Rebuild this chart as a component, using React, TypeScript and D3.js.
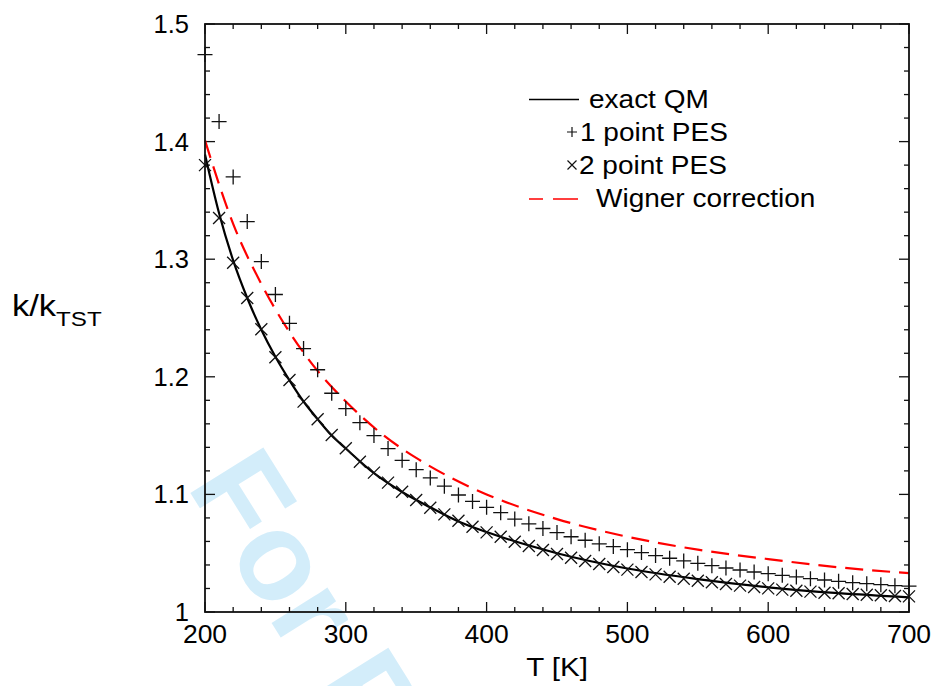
import React from "react";
import * as d3 from "d3";

// temperatures (K) of the marker series
const temps = d3.range(200, 701, 10);

const onePointPES = [
  1.474, 1.417, 1.37, 1.332, 1.298, 1.27, 1.2455, 1.224, 1.206, 1.186, 1.173,
  1.161, 1.15, 1.139, 1.129, 1.121, 1.114, 1.107, 1.0995, 1.094, 1.089,
  1.0845, 1.079, 1.075, 1.071, 1.0675, 1.064, 1.061, 1.058, 1.0556, 1.053,
  1.0505, 1.048, 1.0457, 1.0434, 1.0414, 1.0394, 1.0374, 1.0357, 1.034, 1.0326,
  1.0312, 1.0298, 1.0283, 1.0272, 1.0261, 1.0249, 1.0241, 1.0232, 1.0224, 1.022,
];

const twoPointPES = [
  1.38, 1.335, 1.297, 1.267, 1.2404, 1.2166, 1.1973, 1.1789, 1.1639, 1.1505,
  1.1392, 1.1278, 1.1185, 1.11, 1.1023, 1.0952, 1.0887, 1.083, 1.0776, 1.0725,
  1.0677, 1.064, 1.0598, 1.0561, 1.0527, 1.0493, 1.0462, 1.0434, 1.0408,
  1.0383, 1.036, 1.034, 1.032, 1.03, 1.0283, 1.0266, 1.0253, 1.0238, 1.0224,
  1.0213, 1.0201, 1.019, 1.0181, 1.0173, 1.0164, 1.0159, 1.0153, 1.0147,
  1.0142, 1.0136, 1.0133,
];

const qmTemps = [200, 210, 220, 230, 240, 250, 260, 270, 280, 290, 300, 320, 340, 360, 380, 400, 450, 500, 550, 600, 650, 700];
const exactQM = [1.389, 1.339, 1.299, 1.267, 1.24, 1.217, 1.197, 1.179, 1.164, 1.15, 1.139, 1.118, 1.102, 1.089, 1.077, 1.068, 1.05, 1.037, 1.028, 1.021, 1.016, 1.0125];

const wignerTemps = [200, 220, 240, 260, 280, 300, 325, 350, 375, 400, 450, 500, 550, 600, 650, 700];
const wigner = [1.401, 1.33, 1.279, 1.238, 1.205, 1.179, 1.152, 1.131, 1.114, 1.1, 1.079, 1.064, 1.053, 1.045, 1.038, 1.033];

const xMajorTicks = [200, 300, 400, 500, 600, 700];
const yMajorTicks = [1, 1.1, 1.2, 1.3, 1.4, 1.5];
const yTickLabels = ["1", "1.1", "1.2", "1.3", "1.4", "1.5"];

const W = 933;
const H = 686;
const M = { top: 24, right: 24, bottom: 74, left: 205 };
const FONT = "'Liberation Sans', Arial, Helvetica, sans-serif";

const Plus = ({ cx, cy, r }: { cx: number; cy: number; r: number }) => (
  <path d={`M${cx - r},${cy}H${cx + r}M${cx},${cy - r}V${cy + r}`} />
);
const Cross = ({ cx, cy, r }: { cx: number; cy: number; r: number }) => (
  <path d={`M${cx - r},${cy - r}L${cx + r},${cy + r}M${cx - r},${cy + r}L${cx + r},${cy - r}`} />
);

export default function App() {
  const x = d3.scaleLinear().domain([200, 700]).range([M.left, W - M.right]);
  const y = d3.scaleLinear().domain([1, 1.5]).range([H - M.bottom, M.top]);
  const x0 = x.range()[0], x1 = x.range()[1];
  const y0 = y.range()[0], y1 = y.range()[1];

  const xMinor = d3.range(200, 701, 20);
  const yMinor = d3.range(0, 26).map((i) => 1 + i * 0.02);

  const line = d3
    .line<[number, number]>()
    .x((d) => x(d[0]))
    .y((d) => y(d[1]))
    .curve(d3.curveMonotoneX);

  const qmPath = line(qmTemps.map((t, i) => [t, exactQM[i]]));
  const wignerPath = line(wignerTemps.map((t, i) => [t, wigner[i]]));

  const sx = 1.12;

  return (
    <svg
      width={W}
      height={H}
      style={{ position: "absolute", left: 0, top: 0, background: "#fff" }}
      fontFamily={FONT}
    >
      {/* watermark */}
      <text
        transform="translate(186,486) rotate(58)"
        fontSize={125}
        fontWeight="bold"
        fill="#d3edfa"
      >
        For Peer Review
      </text>

      {/* ticks, mirrored on all sides */}
      <g stroke="#111" strokeWidth={1.3}>
        {xMinor.map((t) => {
          const len = t % 100 === 0 ? 10 : 5;
          return (
            <g key={"xt" + t}>
              <line x1={x(t)} x2={x(t)} y1={y0} y2={y0 - len} />
              <line x1={x(t)} x2={x(t)} y1={y1} y2={y1 + len} />
            </g>
          );
        })}
        {yMinor.map((v, i) => {
          const len = i % 5 === 0 ? 10 : 5;
          return (
            <g key={"yt" + i}>
              <line x1={x0} x2={x0 + len} y1={y(v)} y2={y(v)} />
              <line x1={x1} x2={x1 - len} y1={y(v)} y2={y(v)} />
            </g>
          );
        })}
      </g>

      {/* curves */}
      <path d={wignerPath ?? ""} fill="none" stroke="#f00" strokeWidth={2.2} strokeDasharray="18,9" />
      <path d={qmPath ?? ""} fill="none" stroke="#000" strokeWidth={2.2} />

      <g stroke="#111" strokeWidth={1.3} fill="none">
        {temps.map((t, i) => (
          <Plus key={"p" + t} cx={x(t)} cy={y(onePointPES[i])} r={7.5} />
        ))}
        {temps.map((t, i) => (
          <Cross key={"c" + t} cx={x(t)} cy={y(twoPointPES[i])} r={6} />
        ))}
      </g>

      {/* frame */}
      <rect x={x0} y={y1} width={x1 - x0} height={y0 - y1} fill="none" stroke="#111" strokeWidth={1.8} />

      {/* tick labels */}
      <g fontSize={25} fill="#000">
        {xMajorTicks.map((t) => (
          <text key={"xl" + t} transform={`translate(${x(t)},643) scale(1.06,1)`} textAnchor="middle">
            {t}
          </text>
        ))}
        {yMajorTicks.map((v, i) => (
          <text key={"yl" + v} transform={`translate(189,${y(v) + 9}) scale(1.02,1)`} textAnchor="end">
            {yTickLabels[i]}
          </text>
        ))}
      </g>

      {/* axis labels */}
      <text transform={`translate(${(x0 + x1) / 2},676) scale(1.18,1)`} textAnchor="middle" fontSize={25}>
        T [K]
      </text>
      <text transform="translate(12,316) scale(1.15,1)" fontSize={30}>
        k/k
        <tspan fontSize={21} dy={10}>TST</tspan>
      </text>

      {/* legend */}
      <g fontSize={25}>
        <line x1={529} x2={579} y1={99.5} y2={99.5} stroke="#000" strokeWidth={1.5} />
        <text transform={`translate(589,107.5) scale(${sx},1)`}>exact QM</text>

        <g stroke="#111" strokeWidth={1.2}>
          <Plus cx={572} cy={132} r={5} />
        </g>
        <text transform={`translate(580,140.5) scale(${sx},1)`}>1 point PES</text>

        <g stroke="#111" strokeWidth={1.2}>
          <Cross cx={572} cy={165} r={4.5} />
        </g>
        <text transform={`translate(579,173.5) scale(${sx},1)`}>2 point PES</text>

        <line x1={529} x2={578} y1={199} y2={199} stroke="#f00" strokeWidth={1.5} strokeDasharray="14,10,25" />
        <text transform={`translate(596,206.5) scale(${sx},1)`}>Wigner correction</text>
      </g>
    </svg>
  );
}
